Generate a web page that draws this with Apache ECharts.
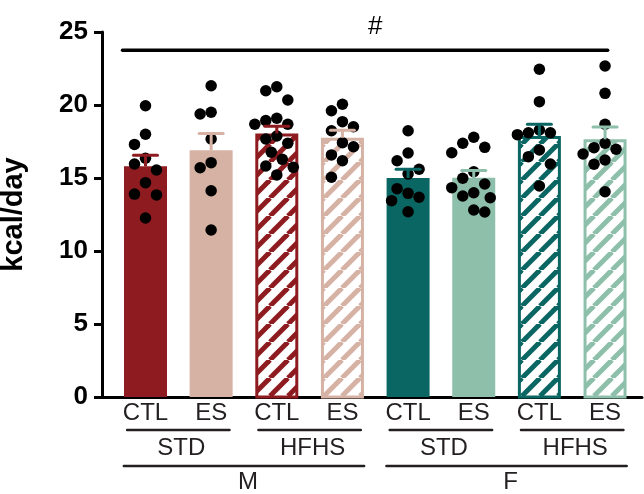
<!DOCTYPE html>
<html><head><meta charset="utf-8">
<script src="https://cdn.jsdelivr.net/npm/echarts@6/dist/echarts.min.js"></script>
<style>html,body{margin:0;padding:0;background:#fff}#c{width:644px;height:494px}</style>
</head><body><div id="c"></div>
<script>
// ---------- data ----------
const categories = ['CTL','ES','CTL','ES','CTL','ES','CTL','ES'];
const dietLabels = ['STD','HFHS','STD','HFHS'];
const sexLabels = ['M','F'];
const yTicks = [0, 5, 10, 15, 20, 25];
const means = [15.8, 16.9, 18.05, 17.75, 15.0, 15.02, 17.88, 17.65];
const sems  = [0.75, 1.15, 0.5, 0.52, 0.6, 0.5, 0.8, 0.85];
const hatched = [false, false, true, true, false, false, true, true];
const pts_M_STD_CTL  = [19.95, 18.0, 17.3, 16.35, 15.96, 15.55, 14.68, 13.9, 13.84, 12.26];
const pts_M_STD_ES   = [21.32, 19.5, 19.38, 17.67, 16.05, 15.7, 14.13, 11.44];
const pts_M_HFHS_CTL = [21.25, 20.98, 20.34, 19.09, 18.93, 18.68, 18.68, 17.88, 17.67, 17.38, 16.76, 16.28, 15.82, 15.73, 15.21];
const pts_M_HFHS_ES  = [20.05, 19.61, 18.86, 18.51, 18.24, 17.42, 17.14, 16.58, 16.18, 15.05];
const pts_F_STD_CTL  = [18.24, 16.71, 16.18, 15.6, 15.27, 14.27, 13.95, 13.68, 13.45, 12.69];
const pts_F_STD_ES   = [17.79, 17.38, 17.1, 16.73, 15.43, 14.98, 14.59, 14.34, 13.99, 13.77, 13.65, 12.81, 12.67];
const pts_F_HFHS_CTL = [22.45, 20.23, 18.29, 18.1, 18.1, 17.97, 16.92, 16.46, 15.96, 14.45];
const pts_F_HFHS_ES  = [22.67, 20.8, 18.68, 17.38, 17.08, 16.97, 16.64, 16.23, 15.94, 14.06];
const groupPoints = [pts_M_STD_CTL, pts_M_STD_ES, pts_M_HFHS_CTL, pts_M_HFHS_ES,
                     pts_F_STD_CTL, pts_F_STD_ES, pts_F_HFHS_CTL, pts_F_HFHS_ES];
const sigLabel = '#';
const sigSpan = [-0.35, 7.04];
const sigLabelAt = 3.5;
const sigLevel = 23.75;

// ---------- style ----------
const colors = ['#8d1b1f', '#d6b2a4', '#8d1b1f', '#d6b2a4', '#0a6663', '#8dbfab', '#0a6663', '#8dbfab'];
const FONT = '"Liberation Sans", Arial, Helvetica, sans-serif';
const BAR_W = 43, DOT = 11.5, COL = 11;
const GRID = {left: 102, right: 2, top: 32, bottom: 97};
const W = 644, H = 494;
const X_MIN = -0.6626, X_MAX = 7.563;
const pxPerX = (W - GRID.left - GRID.right) / (X_MAX - X_MIN);
const pxPerY = (H - GRID.top - GRID.bottom) / 25;

function stripePattern(color) {
  const T = 18, c = document.createElement('canvas');
  c.width = c.height = T;
  const g = c.getContext('2d');
  g.fillStyle = '#fff'; g.fillRect(0, 0, T, T);
  g.strokeStyle = color; g.lineWidth = 5;
  for (const k of [-1, 0, 1]) { g.beginPath(); g.moveTo(k * T, T); g.lineTo(k * T + T, 0); g.stroke(); }
  return {image: c, repeat: 'repeat'};
}

// column beeswarm: offsets (in x-axis units) computed from the values
function swarm(values) {
  const order = values.map((v, i) => i).sort((a, b) => values[b] - values[a]);
  const placed = [], offs = [];
  const cands = [0, -1, 1, -0.5, 0.5, -1.5, 1.5, -2, 2];
  order.forEach(i => {
    const y = values[i] * pxPerY;
    for (const c of cands) {
      const hit = placed.some(p => {
        const dc = Math.abs(p.c - c), dy = Math.abs(p.y - y);
        if (dc === 0) return dy < 1.5 * COL;
        if (dc < 1) return Math.hypot(dc * COL, dy) < DOT;
        return false;
      });
      if (!hit) { placed.push({c, y}); offs[i] = c * COL / pxPerX; break; }
    }
  });
  return offs;
}

const scatterData = [];
groupPoints.forEach((vals, g) => {
  const offs = swarm(vals);
  vals.forEach((v, j) => scatterData.push([g + offs[j], v]));
});

const chart = echarts.init(document.getElementById('c'), null, {renderer: 'canvas'});
const option = {
  animation: false,
  backgroundColor: '#fff',
  grid: Object.assign({containLabel: false, outerBoundsMode: 'none'}, GRID),
  xAxis: {
    type: 'value', min: X_MIN, max: X_MAX,
    axisLine: {show: true, onZero: false, lineStyle: {color: '#000', width: 3}},
    axisTick: {show: false},
    splitLine: {show: false},
    axisLabel: {
      customValues: categories.map((c, i) => i),
      formatter: v => categories[Math.round(v)] || '',
      fontFamily: FONT, fontSize: 24, color: '#231f20', margin: 4
    }
  },
  yAxis: {
    type: 'value', min: 0, max: 25, interval: 5,
    name: 'kcal/day', nameLocation: 'middle', nameGap: 74, nameRotate: 90,
    nameTextStyle: {fontFamily: FONT, fontSize: 29, fontWeight: 'bold', color: '#000'},
    axisLine: {show: true, onZero: false, lineStyle: {color: '#000', width: 3}},
    axisTick: {show: true, length: 8, lineStyle: {color: '#000', width: 3}},
    splitLine: {show: false},
    axisLabel: {fontFamily: FONT, fontSize: 26, fontWeight: 'bold', color: '#000', margin: 14,
      formatter: v => yTicks.includes(v) ? String(v) : ''}
  },
  series: [
    {
      type: 'bar', barWidth: BAR_W, z: 2,
      data: means.map((m, i) => hatched[i] ? [i, null] : {value: [i, m], itemStyle: {color: colors[i]}})
    },
    {
      type: 'custom', z: 2,
      data: means.map((m, i) => hatched[i] ? [i, m] : null).filter(d => d),
      renderItem: (params, api) => {
        const i = api.value(0);
        const top = api.coord([i, api.value(1)]);
        const base = api.coord([i, 0]);
        const bw = 3;
        return {
          type: 'rect',
          shape: {x: top[0] - BAR_W / 2 + bw / 2, y: top[1] + bw / 2, width: BAR_W - bw, height: base[1] - top[1] - bw / 2},
          style: {fill: stripePattern(colors[i]), stroke: colors[i], lineWidth: bw}
        };
      }
    },
    {
      type: 'scatter', z: 3, symbolSize: DOT,
      itemStyle: {color: '#000', opacity: 1},
      data: scatterData
    },
    {
      type: 'custom', z: 4,
      data: means.map((m, i) => [i, m, sems[i]]),
      renderItem: (params, api) => {
        const i = api.value(0), m = api.value(1), s = api.value(2);
        const p0 = api.coord([i, m]);
        const p1 = api.coord([i, m + s]);
        const st = {stroke: colors[i], lineWidth: 3};
        return {
          type: 'group',
          children: [
            {type: 'line', shape: {x1: p0[0], y1: p0[1], x2: p1[0], y2: p1[1]}, style: st},
            {type: 'line', shape: {x1: p1[0] - 12, y1: p1[1], x2: p1[0] + 12, y2: p1[1]}, style: Object.assign({lineCap: 'round'}, st)}
          ]
        };
      }
    }
  ]
};
chart.setOption(option);

// hierarchical labels & significance line
const px = v => chart.convertToPixel({xAxisIndex: 0}, v);
const py = v => chart.convertToPixel({yAxisIndex: 0}, v);
const g = [];
const lineCol = '#231f20';
const txt = (text, x, y, size) => ({type: 'text', x, y,
  style: {text, fill: lineCol, font: size + 'px ' + FONT, align: 'center', verticalAlign: 'middle'}});
const seg = (x1, x2, y, w, col) => ({type: 'line', shape: {x1, y1: y, x2, y2: y},
  style: {stroke: col || lineCol, lineWidth: w || 2.5, lineCap: 'round'}});
dietLabels.forEach((d, k) => {
  const c = 2 * k + 0.5;
  g.push(seg(px(c - 0.78), px(c + 0.78), 430));
  g.push(txt(d, px(c) + 3, 448, 24));
});
sexLabels.forEach((s, k) => {
  const c = 4 * k + 1.5;
  g.push(seg(px(c - 1.83), px(c + 1.83), 466));
  g.push(txt(s, px(c) + 4, 482, 24));
});
g.push(seg(px(sigSpan[0]), px(sigSpan[1]), py(sigLevel), 3.5, '#000'));
g.push({type: 'text', x: px(sigLabelAt), y: py(sigLevel) - 23,
  style: {text: sigLabel, fill: '#000', font: '26px ' + FONT, align: 'center', verticalAlign: 'middle'}});
chart.setOption({graphic: g});
</script>
</body></html>
